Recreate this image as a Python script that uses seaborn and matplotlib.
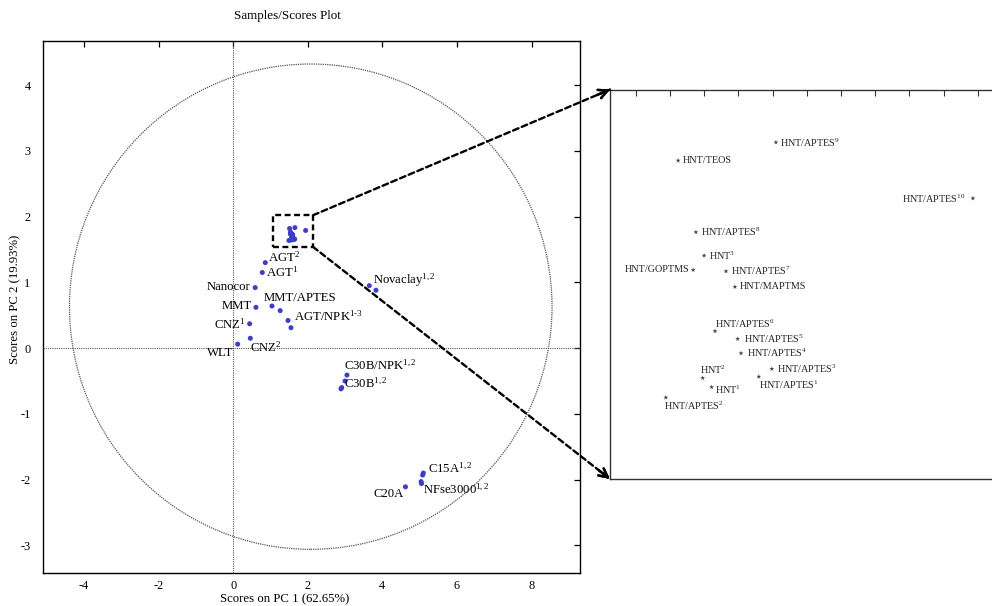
import numpy as np
import pandas as pd
import matplotlib
matplotlib.use("Agg")
import matplotlib.pyplot as plt
from matplotlib.patches import Ellipse, Rectangle, ConnectionPatch
import seaborn as sns

# ---- PCA scores (PC1, PC2) ----
sample_group = ["AGT2", "AGT1", "Nanocor", "MMT", "MMT/APTES", "MMT/APTES",
                "AGT/NPK", "AGT/NPK", "CNZ1", "CNZ2", "WLT",
                "Novaclay", "Novaclay", "C30B/NPK", "C30B/NPK", "C30B", "C30B",
                "C15A", "C15A", "NFse3000", "NFse3000", "C20A"]
pc1 = [0.86, 0.78, 0.59, 0.61, 1.04, 1.26,
       1.47, 1.55, 0.44, 0.46, 0.12,
       3.65, 3.83, 3.05, 3.00, 2.89, 2.91,
       5.10, 5.08, 5.04, 5.05, 4.62]
pc2 = [1.30, 1.15, 0.92, 0.62, 0.64, 0.57,
       0.42, 0.31, 0.37, 0.15, 0.06,
       0.95, 0.88, -0.41, -0.50, -0.62, -0.60,
       -1.90, -1.93, -2.03, -2.06, -2.11]

# halloysite (HNT) samples, shown enlarged on the right
hnt_names = ["HNT/TEOS", "HNT/APTES9", "HNT/APTES10", "HNT/APTES8", "HNT3",
             "HNT/GOPTMS", "HNT/APTES7", "HNT/MAPTMS", "HNT/APTES6", "HNT/APTES5",
             "HNT/APTES4", "HNT/APTES3", "HNT/APTES1", "HNT2", "HNT1", "HNT/APTES2"]
hnt_pc1 = [1.512, 1.655, 1.943, 1.538, 1.550,
           1.534, 1.582, 1.595, 1.566, 1.599,
           1.604, 1.649, 1.630, 1.548, 1.561, 1.494]
hnt_pc2 = [1.818, 1.832, 1.789, 1.763, 1.745,
           1.734, 1.733, 1.721, 1.687, 1.681,
           1.670, 1.658, 1.652, 1.651, 1.644, 1.636]

x_ticks = [-4, -2, 0, 2, 4, 6, 8]
y_ticks = [-3, -2, -1, 0, 1, 2, 3, 4]

# display text for each group label
group_text = {
    "AGT2": r"AGT$^{2}$", "AGT1": r"AGT$^{1}$", "Nanocor": "Nanocor", "MMT": "MMT",
    "MMT/APTES": "MMT/APTES", "AGT/NPK": r"AGT/NPK$^{1\text{-}3}$",
    "CNZ1": r"CNZ$^{1}$", "CNZ2": r"CNZ$^{2}$", "WLT": "WLT",
    "Novaclay": r"Novaclay$^{1,2}$", "C30B/NPK": r"C30B/NPK$^{1,2}$",
    "C30B": r"C30B$^{1,2}$", "C15A": r"C15A$^{1,2}$",
    "NFse3000": r"NFse3000$^{1,2}$", "C20A": "C20A",
}
hnt_text = {
    "HNT/TEOS": "HNT/TEOS", "HNT/APTES9": r"HNT/APTES$^{9}$",
    "HNT/APTES10": r"HNT/APTES$^{10}$", "HNT/APTES8": r"HNT/APTES$^{8}$",
    "HNT3": r"HNT$^{3}$", "HNT/GOPTMS": "HNT/GOPTMS", "HNT/APTES7": r"HNT/APTES$^{7}$",
    "HNT/MAPTMS": "HNT/MAPTMS", "HNT/APTES6": r"HNT/APTES$^{6}$",
    "HNT/APTES5": r"HNT/APTES$^{5}$", "HNT/APTES4": r"HNT/APTES$^{4}$",
    "HNT/APTES3": r"HNT/APTES$^{3}$", "HNT/APTES1": r"HNT/APTES$^{1}$",
    "HNT2": r"HNT$^{2}$", "HNT1": r"HNT$^{1}$", "HNT/APTES2": r"HNT/APTES$^{2}$",
}

# label placement: offset in pixels from the point, horizontal alignment
group_offset = {
    "AGT2": (3, 5, "left"), "AGT1": (4, 0, "left"), "Nanocor": (-5, 1, "right"),
    "MMT": (-4, 1, "right"), "MMT/APTES": (-8, 8, "left"), "AGT/NPK": (6, 4, "left"),
    "CNZ1": (-4, -1, "right"), "CNZ2": (0, -9, "left"), "WLT": (-4, -9, "right"),
    "Novaclay": (4, 5, "left"), "C30B/NPK": (-3, 10, "left"), "C30B": (3, 6, "left"),
    "C15A": (5, 5, "left"), "NFse3000": (2, -8, "left"), "C20A": (-2, -7, "right"),
}
hnt_offset = {
    "HNT/TEOS": (5, 0, "left"), "HNT/APTES9": (4, 0, "left"),
    "HNT/APTES10": (-7, 0, "right"), "HNT/APTES8": (5, 0, "left"),
    "HNT3": (5, 0, "left"), "HNT/GOPTMS": (-4, 0, "right"),
    "HNT/APTES7": (5, 0, "left"), "HNT/MAPTMS": (5, 0, "left"),
    "HNT/APTES6": (0, 7, "left"), "HNT/APTES5": (6, 0, "left"),
    "HNT/APTES4": (6, 0, "left"), "HNT/APTES3": (5, 0, "left"),
    "HNT/APTES1": (0, -8, "left"), "HNT2": (-3, 8, "left"),
    "HNT1": (3, -3, "left"), "HNT/APTES2": (-2, -8, "left"),
}

sns.set_theme(style="white")
plt.rcParams["font.family"] = ["Liberation Serif", "DejaVu Serif"]
plt.rcParams["mathtext.fontset"] = "custom"
plt.rcParams["mathtext.rm"] = "Liberation Serif"
plt.rcParams["mathtext.it"] = "Liberation Serif:italic"
plt.rcParams["mathtext.default"] = "regular"

W, H = 992, 606
fig = plt.figure(figsize=(W / 100, H / 100), dpi=100)
fig.patch.set_facecolor("white")

# main score plot
ax = fig.add_axes([43 / W, 1 - 573 / H, (580 - 43) / W, (573 - 41) / H])
ax.set_facecolor("white")

main_df = pd.DataFrame({"pc1": pc1 + hnt_pc1, "pc2": pc2 + hnt_pc2})
sns.scatterplot(data=main_df, x="pc1", y="pc2", ax=ax, s=13, color="#3c3cd0",
                edgecolor="none", zorder=4, legend=False)

ax.set_xlim(-5.1, 9.3)
ax.set_ylim(-3.42, 4.67)
ax.set_xticks(x_ticks)
ax.set_xticklabels([str(v) for v in x_ticks])
ax.set_yticks(y_ticks)
ax.set_yticklabels([str(v) for v in y_ticks])
ax.set_xlabel("")
ax.set_ylabel("")
for s in ax.spines.values():
    s.set_color("black")
    s.set_linewidth(1.0)
ax.tick_params(direction="in", length=4, width=0.9, top=True, right=True,
               labelsize=8.8, colors="black")
ax.tick_params(axis="x", pad=5)
ax.tick_params(axis="y", pad=9)

ax.axhline(0, color="#555555", lw=0.8, ls=(0, (1, 1)), zorder=1)
ax.axvline(0, color="#555555", lw=0.8, ls=(0, (1, 1)), zorder=1)
ax.add_patch(Ellipse((2.08, 0.63), 12.94, 7.38, fill=False, ec="#555555",
                     lw=0.9, ls=(0, (1, 0.8)), zorder=2))

seen = set()
for g, x, y in zip(sample_group, pc1, pc2):
    if g in seen:
        continue
    seen.add(g)
    dx, dy, ha = group_offset[g]
    ax.annotate(group_text[g], (x, y), xytext=(dx, dy), textcoords="offset pixels",
                ha=ha, va="center", fontsize=9.2, color="black", zorder=5)

# dashed box around the HNT cluster
box = (1.08, 1.54, 2.14, 2.02)
ax.add_patch(Rectangle((box[0], box[1]), box[2] - box[0], box[3] - box[1],
                       fill=False, ec="black", lw=1.7, ls=(0, (2.5, 1.5)),
                       zorder=6, clip_on=False))

# enlarged view of the HNT cluster
ins = fig.add_axes([610 / W, 1 - 479 / H, (W - 610) / W, (479 - 89.5) / H])
ins.set_facecolor("white")
hnt_df = pd.DataFrame({"pc1": hnt_pc1, "pc2": hnt_pc2})
sns.scatterplot(data=hnt_df, x="pc1", y="pc2", ax=ins, s=14, marker="*",
                color="#444444", edgecolor="none", zorder=3, legend=False)
ins.set_xlim(1.4124, 1.9709)
ins.set_ylim(1.5734, 1.8726)
ins.set_xticks(np.arange(1.45, 1.96, 0.05))
ins.set_yticks(np.arange(1.60, 1.86, 0.05))
ins.set_xticklabels([])
ins.set_yticklabels([])
ins.set_xlabel("")
ins.set_ylabel("")
ins.spines["right"].set_visible(False)
for k in ("left", "top", "bottom"):
    ins.spines[k].set_color("#333333")
    ins.spines[k].set_linewidth(1.0)
ins.tick_params(direction="in", length=4, width=0.8, top=True, right=False,
                colors="#333333")
for name, x, y in zip(hnt_names, hnt_pc1, hnt_pc2):
    dx, dy, ha = hnt_offset[name]
    ins.annotate(hnt_text[name], (x, y), xytext=(dx, dy), textcoords="offset pixels",
                 ha=ha, va="center", fontsize=7.3, color="#222222")

# dashed connectors with arrowheads from the box to the enlarged view
fig.canvas.draw()
for (bx, by), corner in (((box[2], box[3]), (0, 1)), ((box[2], box[1]), (0, 0))):
    con = ConnectionPatch(xyA=(bx, by), coordsA=ax.transData,
                          xyB=corner, coordsB=ins.transAxes,
                          color="black", lw=1.7, ls=(0, (2.5, 1.5)), zorder=7)
    fig.add_artist(con)
    a = np.array(ax.transData.transform((bx, by)))
    b = np.array(ins.transAxes.transform(corner))
    u = (b - a) / np.hypot(*(b - a))
    fig.add_artist(plt.annotate("", xy=tuple(b), xytext=tuple(b - 14 * u),
                                xycoords="figure pixels", textcoords="figure pixels",
                                arrowprops=dict(arrowstyle="->", lw=1.7, color="black",
                                                mutation_scale=16,
                                                shrinkA=0, shrinkB=0)))

fig.text(287 / W, 1 - 16 / H, "Samples/Scores Plot", ha="center", va="center",
         fontsize=9.4, color="black")
fig.text(285 / W, 1 - 599 / H, "Scores on PC 1 (62.65%)", ha="center", va="center",
         fontsize=9.2, color="black")
fig.text(15 / W, 1 - 299 / H, "Scores on PC 2 (19.93%)", ha="center", va="center",
         rotation=90, fontsize=9.2, color="black")

fig.savefig("out.png", dpi=100, facecolor="white")
